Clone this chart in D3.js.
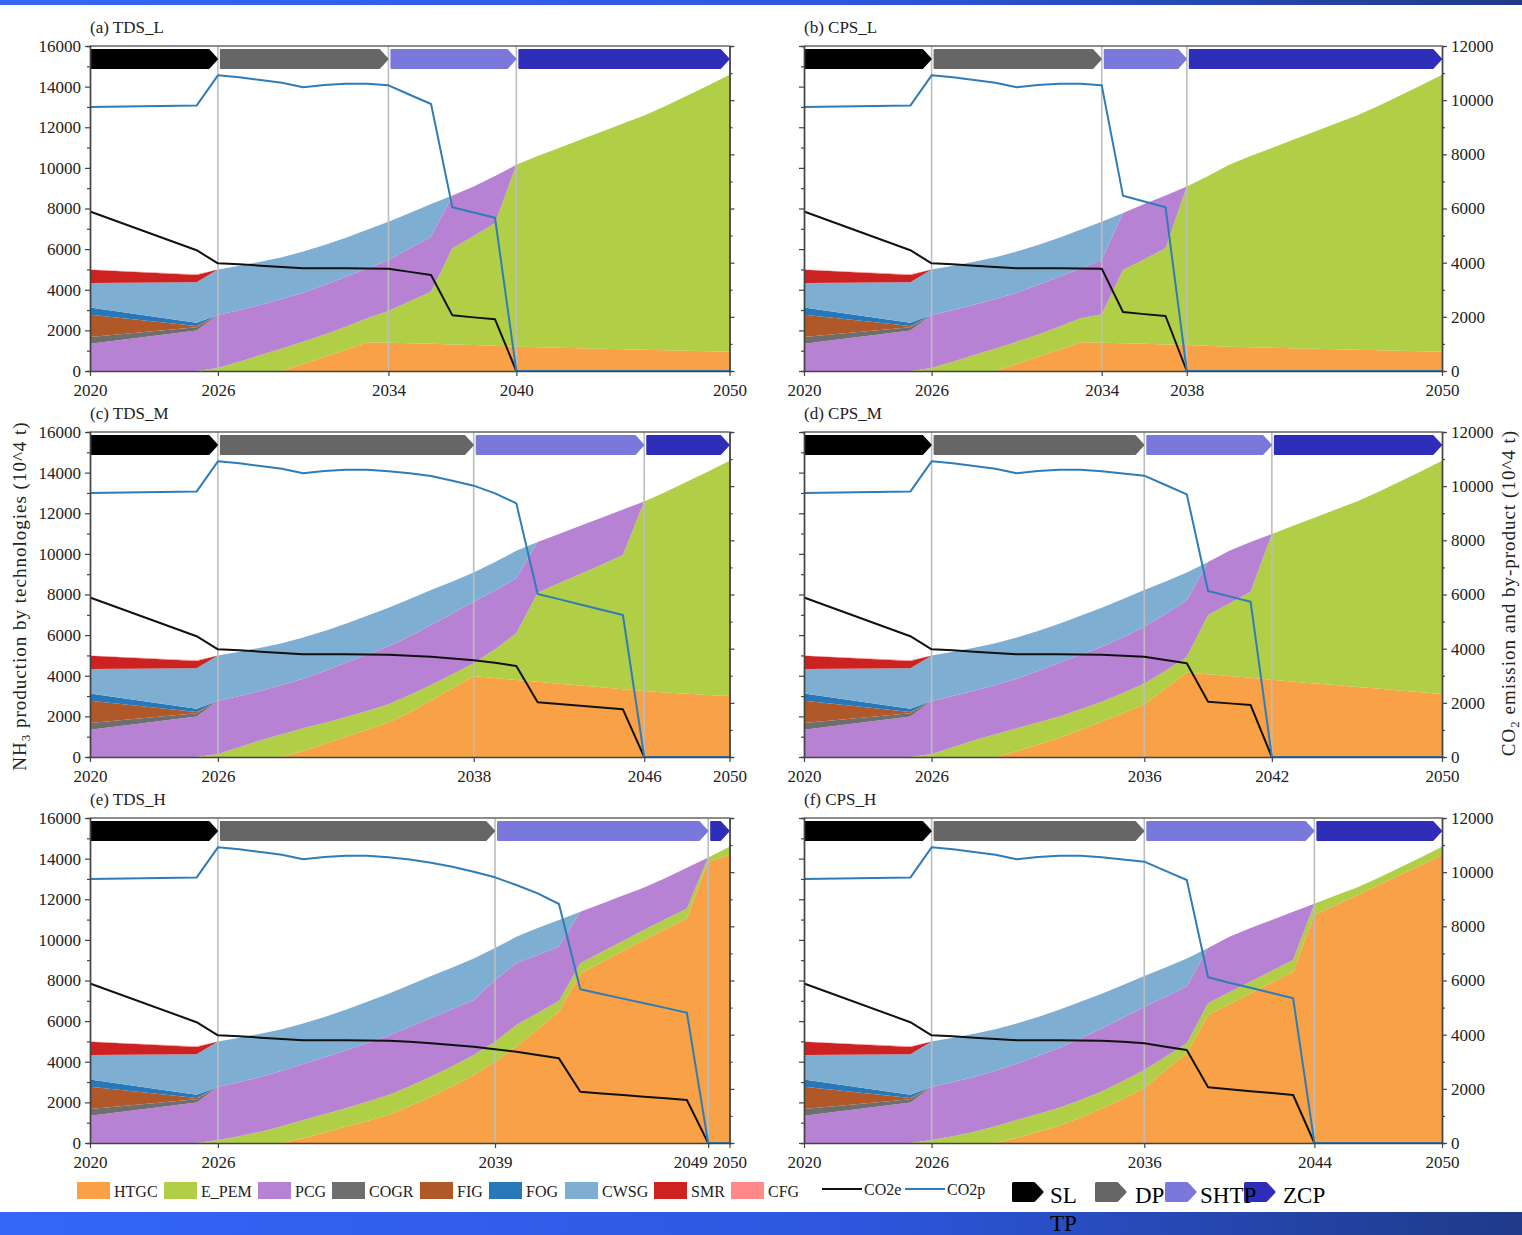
<!DOCTYPE html>
<html>
<head>
<meta charset="utf-8">
<script src="https://cdn.jsdelivr.net/npm/d3@7"></script>
<style>
  body { margin: 0; background: #fff; }
  svg { display: block; font-family: "Liberation Serif", "Times New Roman", serif; }
</style>
</head>
<body>
<svg id="chart" width="1522" height="1235"></svg>
<script>
// x positions of the data points (2021-2024 lie on the straight stretch)
let years = [2020, 2025, 2026, 2027, 2028, 2029, 2030, 2031, 2032, 2033, 2034, 2035, 2036, 2037, 2038,
	2039, 2040, 2041, 2042, 2043, 2044, 2045, 2046, 2047, 2048, 2049, 2050];

// technologies that only run in 2020-2025 (same in every scenario), 0 afterwards
let legacyYears = [2020, 2025];
let cogr = [330, 170];
let fig = [1100, 60];
let fog = [360, 150];
let smr = [650, 360];
let cfg = [20, 30];

// (a) TDS_L
let phasesA = [2020, 2026, 2034, 2040, 2050];
let htgcA = [0, 0, 0, 0, 0, 0, 350, 700, 1050, 1410, 1395, 1370, 1340, 1310, 1280, 1240, 1200, 1175, 1150, 1125, 1100, 1075, 1050, 1025, 1000, 975, 950];
let epemA = [0, 0, 150, 460, 790, 1110, 1090, 1100, 1130, 1190, 1555, 2060, 2560, 4730, 5370, 6030, 8950, 9405, 9830, 10255, 10680, 11105, 11530, 12025, 12550, 13085, 13630];
let pcgA = [1340, 1990, 2607, 2540, 2470, 2430, 2410, 2430, 2460, 2450, 2520, 2610, 2710, 2600, 2430, 2330, 0, 0, 0, 0, 0, 0, 0, 0, 0, 0, 0];
let cwsgA = [1200, 2000, 2243, 2180, 2120, 2060, 2030, 1970, 1920, 1900, 1880, 1740, 1610, 0, 0, 0, 0, 0, 0, 0, 0, 0, 0, 0, 0, 0, 0];
let co2eA = [5890, 4460, 3975, 3940, 3890, 3840, 3790, 3790, 3790, 3785, 3778, 3660, 3545, 2055, 1980, 1908, 0, 0, 0, 0, 0, 0, 0, 0, 0, 0, 0];
let co2pA = [9750, 9800, 10916, 10843, 10745, 10646, 10474, 10560, 10609, 10609, 10547, 10200, 9858, 6043, 5850, 5661, 0, 0, 0, 0, 0, 0, 0, 0, 0, 0, 0];

// (b) CPS_L
let phasesB = [2020, 2026, 2034, 2038, 2050];
let htgcB = [0, 0, 0, 0, 0, 0, 350, 700, 1050, 1410, 1395, 1370, 1340, 1310, 1280, 1240, 1200, 1175, 1150, 1125, 1100, 1075, 1050, 1025, 1000, 975, 950];
let epemB = [0, 0, 150, 460, 790, 1110, 1090, 1100, 1130, 1190, 1405, 3600, 4160, 4730, 7800, 8360, 8950, 9405, 9830, 10255, 10680, 11105, 11530, 12025, 12550, 13085, 13630];
let pcgB = [1340, 1990, 2607, 2540, 2470, 2430, 2410, 2430, 2460, 2450, 2670, 2810, 2720, 2600, 0, 0, 0, 0, 0, 0, 0, 0, 0, 0, 0, 0, 0];
let cwsgB = [1200, 2000, 2243, 2180, 2120, 2060, 2030, 1970, 1920, 1900, 1880, 0, 0, 0, 0, 0, 0, 0, 0, 0, 0, 0, 0, 0, 0, 0, 0];
let co2eB = [5890, 4460, 3975, 3940, 3890, 3840, 3790, 3790, 3790, 3785, 3778, 2178, 2100, 2031, 0, 0, 0, 0, 0, 0, 0, 0, 0, 0, 0, 0, 0];
let co2pB = [9750, 9800, 10916, 10843, 10745, 10646, 10474, 10560, 10609, 10609, 10547, 6474, 6260, 6043, 0, 0, 0, 0, 0, 0, 0, 0, 0, 0, 0, 0, 0];

// (c) TDS_M
let phasesC = [2020, 2026, 2038, 2046, 2050];
let htgcC = [0, 0, 0, 0, 0, 0, 300, 650, 1000, 1350, 1700, 2200, 2780, 3380, 3990, 3890, 3790, 3700, 3610, 3520, 3430, 3340, 3250, 3180, 3110, 3050, 3000];
let epemC = [0, 0, 150, 480, 830, 1120, 1110, 1030, 970, 920, 900, 850, 770, 690, 620, 1410, 2300, 4390, 4940, 5490, 6040, 6600, 9330, 9870, 10440, 11010, 11580];
let pcgC = [1340, 1990, 2607, 2520, 2430, 2420, 2440, 2550, 2670, 2770, 2850, 2900, 2950, 2990, 3030, 2900, 2710, 2490, 2430, 2370, 2310, 2240, 0, 0, 0, 0, 0];
let cwsgC = [1200, 2000, 2243, 2180, 2120, 2060, 2030, 1970, 1920, 1910, 1900, 1830, 1720, 1580, 1440, 1400, 1350, 0, 0, 0, 0, 0, 0, 0, 0, 0, 0];
let co2eC = [5890, 4460, 3975, 3940, 3890, 3840, 3790, 3790, 3790, 3785, 3778, 3740, 3705, 3640, 3570, 3480, 3360, 2018, 1955, 1890, 1825, 1760, 0, 0, 0, 0, 0];
let co2pC = [9750, 9800, 10916, 10843, 10745, 10646, 10474, 10560, 10609, 10609, 10547, 10474, 10375, 10203, 10018, 9735, 9366, 6018, 5830, 5630, 5440, 5243, 0, 0, 0, 0, 0];

// (d) CPS_M
let phasesD = [2020, 2026, 2036, 2042, 2050];
let htgcD = [0, 0, 0, 0, 0, 0, 280, 600, 950, 1330, 1750, 2150, 2600, 3370, 4150, 4070, 3990, 3900, 3800, 3710, 3620, 3540, 3450, 3370, 3280, 3190, 3100];
let epemD = [0, 0, 150, 480, 830, 1120, 1130, 1100, 1050, 1020, 970, 1000, 1020, 880, 790, 2920, 3570, 4240, 7180, 7670, 8160, 8640, 9130, 9680, 10270, 10870, 11480];
let pcgD = [1340, 1990, 2607, 2520, 2430, 2420, 2440, 2530, 2640, 2680, 2710, 2750, 2790, 2800, 2760, 2610, 2590, 2440, 0, 0, 0, 0, 0, 0, 0, 0, 0];
let cwsgD = [1200, 2000, 2243, 2180, 2120, 2060, 2030, 1970, 1920, 1920, 1920, 1880, 1810, 1590, 1380, 0, 0, 0, 0, 0, 0, 0, 0, 0, 0, 0, 0];
let co2eD = [5890, 4460, 3975, 3940, 3890, 3840, 3790, 3790, 3790, 3785, 3778, 3740, 3705, 3580, 3458, 2043, 1980, 1920, 0, 0, 0, 0, 0, 0, 0, 0, 0];
let co2pD = [9750, 9800, 10916, 10843, 10745, 10646, 10474, 10560, 10609, 10609, 10547, 10470, 10388, 10043, 9698, 6129, 5930, 5735, 0, 0, 0, 0, 0, 0, 0, 0, 0];

// (e) TDS_H
let phasesE = [2020, 2026, 2039, 2049, 2050];
let htgcE = [0, 0, 0, 0, 0, 0, 230, 520, 800, 1080, 1380, 1820, 2280, 2800, 3350, 4000, 4740, 5600, 6470, 8350, 8900, 9450, 10000, 10530, 11060, 13850, 14180];
let epemE = [0, 0, 150, 330, 560, 830, 900, 900, 910, 950, 980, 980, 990, 980, 980, 990, 1070, 800, 520, 500, 500, 500, 500, 500, 490, 210, 400];
let pcgE = [1340, 1990, 2607, 2670, 2690, 2730, 2760, 2800, 2850, 2890, 2920, 2920, 2890, 2820, 2710, 3030, 3040, 2860, 2680, 2530, 2380, 2230, 2080, 2020, 2000, 0, 0];
let cwsgE = [1200, 2000, 2243, 2180, 2130, 2040, 1990, 1980, 2000, 2030, 2070, 2060, 2060, 2040, 2040, 1580, 1300, 1320, 1310, 0, 0, 0, 0, 0, 0, 0, 0];
let co2eE = [5890, 4460, 3975, 3940, 3890, 3840, 3790, 3790, 3790, 3785, 3778, 3740, 3680, 3620, 3557, 3458, 3372, 3249, 3126, 1895, 1830, 1770, 1710, 1650, 1588, 0, 0];
let co2pE = [9750, 9800, 10916, 10843, 10745, 10646, 10474, 10560, 10609, 10609, 10547, 10470, 10351, 10203, 10018, 9809, 9526, 9218, 8825, 5674, 5500, 5330, 5160, 4990, 4812, 0, 0];

// (f) CPS_H
let phasesF = [2020, 2026, 2036, 2044, 2050];
let htgcF = [0, 0, 0, 0, 0, 0, 250, 550, 850, 1250, 1700, 2180, 2690, 3590, 4410, 6300, 6830, 7370, 7900, 8430, 11220, 11710, 12200, 12690, 13180, 13680, 14180];
let epemF = [0, 0, 150, 330, 560, 830, 880, 880, 890, 870, 830, 870, 900, 660, 500, 580, 590, 580, 580, 580, 560, 470, 380, 360, 370, 380, 400];
let pcgF = [1340, 1990, 2607, 2670, 2690, 2730, 2770, 2850, 2940, 3030, 3110, 3120, 3120, 2950, 2790, 2720, 2730, 2630, 2500, 2370, 0, 0, 0, 0, 0, 0, 0];
let cwsgF = [1200, 2000, 2243, 2180, 2130, 2040, 1980, 1920, 1880, 1800, 1710, 1610, 1510, 1440, 1380, 0, 0, 0, 0, 0, 0, 0, 0, 0, 0, 0, 0];
let co2eF = [5890, 4460, 3975, 3940, 3890, 3840, 3790, 3790, 3790, 3785, 3778, 3740, 3680, 3557, 3434, 2055, 1985, 1915, 1845, 1772, 0, 0, 0, 0, 0, 0, 0];
let co2pF = [9750, 9800, 10916, 10843, 10745, 10646, 10474, 10560, 10609, 10609, 10547, 10470, 10388, 10050, 9711, 6117, 5920, 5730, 5535, 5342, 0, 0, 0, 0, 0, 0, 0];

let techKeys = ["HTGC", "E_PEM", "PCG", "COGR", "FIG", "FOG", "CWSG", "SMR", "CFG"];
let techColors = ["#F8A146", "#B0CE46", "#B782D4", "#6E6E6E", "#B05828", "#2878B9", "#7FAED3", "#CC2222", "#FF8888"];
let phaseNames = ["SL", "DP", "SHTP", "ZCP"];
let phaseColors = ["#000000", "#666666", "#7B78DC", "#2E2EB8"];
let co2Colors = {CO2e: "#111111", CO2p: "#2F7DB8"};

let panels = [
	{title: "(a) TDS_L", phases: phasesA, htgc: htgcA, epem: epemA, pcg: pcgA, cwsg: cwsgA, co2e: co2eA, co2p: co2pA},
	{title: "(b) CPS_L", phases: phasesB, htgc: htgcB, epem: epemB, pcg: pcgB, cwsg: cwsgB, co2e: co2eB, co2p: co2pB},
	{title: "(c) TDS_M", phases: phasesC, htgc: htgcC, epem: epemC, pcg: pcgC, cwsg: cwsgC, co2e: co2eC, co2p: co2pC},
	{title: "(d) CPS_M", phases: phasesD, htgc: htgcD, epem: epemD, pcg: pcgD, cwsg: cwsgD, co2e: co2eD, co2p: co2pD},
	{title: "(e) TDS_H", phases: phasesE, htgc: htgcE, epem: epemE, pcg: pcgE, cwsg: cwsgE, co2e: co2eE, co2p: co2pE},
	{title: "(f) CPS_H", phases: phasesF, htgc: htgcF, epem: epemF, pcg: pcgF, cwsg: cwsgF, co2e: co2eF, co2p: co2pF}
];

// layout
let colX = [[90, 729.5], [804, 1442]];
let rowY = [[46, 371], [432, 757], [818, 1143]];
let fontFam = "'Liberation Serif', 'Times New Roman', serif";

let svg = d3.select("#chart");

// blue bands top and bottom
let grad = svg.append("defs").append("linearGradient").attr("id", "band");
grad.append("stop").attr("offset", "0%").attr("stop-color", "#3566F8");
grad.append("stop").attr("offset", "55%").attr("stop-color", "#2D57E0");
grad.append("stop").attr("offset", "100%").attr("stop-color", "#1F3A88");
svg.append("rect").attr("x", 0).attr("y", 0).attr("width", 1522).attr("height", 5).attr("fill", "url(#band)");
svg.append("rect").attr("x", 0).attr("y", 1212).attr("width", 1522).attr("height", 23).attr("fill", "url(#band)");

function legacyValue(arr, yr) {
	let i = legacyYears.indexOf(yr);
	return i < 0 ? 0 : arr[i];
}

function arrowPath(xa, xb, yt, yb) {
	let m = (yt + yb) / 2, t = 8;
	return `M${xa},${yt}L${xb - t},${yt}L${xb},${m}L${xb - t},${yb}L${xa},${yb}Z`;
}

function styleAxis(g) {
	g.attr("font-size", 17).attr("font-family", fontFam);
	g.select(".domain").attr("stroke", "#444").attr("stroke-width", 1.4);
	g.selectAll(".tick line").attr("stroke", "#444").attr("stroke-width", 1.2);
	g.selectAll(".tick text").attr("fill", "#222");
}

panels.forEach((p, k) => {
	let col = k % 2, row = Math.floor(k / 2);
	let x = d3.scaleLinear().domain([2020, 2050]).range(colX[col]);
	let y = d3.scaleLinear().domain([0, 16000]).range([rowY[row][1], rowY[row][0]]);
	let yR = d3.scaleLinear().domain([0, 12000]).range([rowY[row][1], rowY[row][0]]);
	let g = svg.append("g");

	let rows = years.map((yr, i) => ({
		year: yr,
		HTGC: p.htgc[i], E_PEM: p.epem[i], PCG: p.pcg[i],
		COGR: legacyValue(cogr, yr), FIG: legacyValue(fig, yr), FOG: legacyValue(fog, yr),
		CWSG: p.cwsg[i], SMR: legacyValue(smr, yr), CFG: legacyValue(cfg, yr)
	}));
	let series = d3.stack().keys(techKeys)(rows);
	let area = d3.area()
		.x(d => x(d.data.year))
		.y0(d => y(d[0]))
		.y1(d => y(d[1]));
	g.selectAll(".area").data(series).join("path")
		.attr("class", "area")
		.attr("fill", (d, i) => techColors[i])
		.attr("d", area);

	// phase dividers
	g.selectAll(".divider").data(p.phases.slice(1, -1)).join("line")
		.attr("class", "divider")
		.attr("x1", d => x(d)).attr("x2", d => x(d))
		.attr("y1", y(0)).attr("y2", y(16000))
		.attr("stroke", "#BDBDBD").attr("stroke-width", 1.6);

	// CO2 lines on right scale
	let line = d3.line().x((d, i) => x(years[i])).y(d => yR(d));
	g.append("path").attr("d", line(p.co2e)).attr("fill", "none")
		.attr("stroke", co2Colors.CO2e).attr("stroke-width", 2).attr("stroke-linejoin", "round");
	g.append("path").attr("d", line(p.co2p)).attr("fill", "none")
		.attr("stroke", co2Colors.CO2p).attr("stroke-width", 2).attr("stroke-linejoin", "round");

	// phase arrows
	let yt = y(15850) + 1, yb = y(14870) - 1;
	p.phases.slice(0, -1).forEach((start, i) => {
		let xa = x(start) + (i === 0 ? 1.5 : 3);
		let xb = x(p.phases[i + 1]) - 1;
		g.append("path").attr("d", arrowPath(xa, xb, yt, yb))
			.attr("fill", phaseColors[i]).attr("stroke", phaseColors[i])
			.attr("stroke-width", 2).attr("stroke-linejoin", "round");
	});

	// frame top
	g.append("line").attr("x1", x(2020)).attr("x2", x(2050))
		.attr("y1", y(16000)).attr("y2", y(16000))
		.attr("stroke", "#666").attr("stroke-width", 1.4);

	// bottom axis
	let gx = g.append("g").attr("transform", `translate(0,${y(0)})`)
		.call(d3.axisBottom(x).tickValues(p.phases).tickFormat(d3.format("d"))
			.tickSizeInner(5).tickSizeOuter(0).tickPadding(8));
	styleAxis(gx);
	gx.selectAll(".tick").each(function (d, i) {
		let nxt = p.phases[i + 1];
		if (nxt !== undefined && x(nxt) - x(d) < 30) {
			d3.select(this).select("text").attr("text-anchor", "end").attr("x", -1);
		}
	});

	// left axis (0-16000)
	let gl = g.append("g").attr("transform", `translate(${x(2020)},0)`)
		.call(d3.axisLeft(y).tickValues(d3.range(0, 16001, 2000))
			.tickFormat(col === 0 ? d3.format("d") : "")
			.tickSizeInner(5).tickSizeOuter(0).tickPadding(4));
	styleAxis(gl);
	let glm = g.append("g").attr("transform", `translate(${x(2020)},0)`)
		.call(d3.axisLeft(y).tickValues(d3.range(1000, 16000, 2000)).tickFormat("").tickSize(3));
	styleAxis(glm);

	// right axis (0-12000)
	let gr = g.append("g").attr("transform", `translate(${x(2050)},0)`)
		.call(d3.axisRight(yR).tickValues(d3.range(0, 12001, 2000))
			.tickFormat(col === 1 ? d3.format("d") : "")
			.tickSizeInner(5).tickSizeOuter(0).tickPadding(4));
	styleAxis(gr);
	let grm = g.append("g").attr("transform", `translate(${x(2050)},0)`)
		.call(d3.axisRight(yR).tickValues(d3.range(1000, 12000, 2000)).tickFormat("").tickSize(3));
	styleAxis(grm);

	// title
	g.append("text").attr("x", x(2020)).attr("y", y(16000) - 13)
		.attr("font-size", 17).attr("font-family", fontFam).attr("fill", "#222")
		.text(p.title);
});

// axis titles
let lt = svg.append("text").attr("transform", "translate(26,596) rotate(-90)")
	.attr("text-anchor", "middle").attr("font-size", 19).attr("font-family", fontFam)
	.attr("letter-spacing", 1).attr("fill", "#222");
lt.append("tspan").text("NH");
lt.append("tspan").attr("dy", 4).attr("font-size", 13).text("3");
lt.append("tspan").attr("dy", -4).text(" production by technologies (10^4 t)");

let rt = svg.append("text").attr("transform", "translate(1515,593) rotate(-90)")
	.attr("text-anchor", "middle").attr("font-size", 19).attr("font-family", fontFam)
	.attr("letter-spacing", 1).attr("fill", "#222");
rt.append("tspan").text("CO");
rt.append("tspan").attr("dy", 4).attr("font-size", 13).text("2");
rt.append("tspan").attr("dy", -4).text(" emission and by-product (10^4 t)");

// legend
let lg = svg.append("g").attr("font-family", fontFam).attr("fill", "#222");
let swatchX = [77, 164, 258, 332, 420, 489, 565, 654, 731];
techKeys.forEach((key, i) => {
	lg.append("rect").attr("x", swatchX[i]).attr("y", 1182).attr("width", 33).attr("height", 17)
		.attr("fill", techColors[i]);
	lg.append("text").attr("x", swatchX[i] + 37).attr("y", 1197).attr("font-size", 16).text(key);
});
let lineX = [822, 905];
["CO2e", "CO2p"].forEach((key, i) => {
	lg.append("line").attr("x1", lineX[i]).attr("x2", lineX[i] + 40).attr("y1", 1189).attr("y2", 1189)
		.attr("stroke", co2Colors[key]).attr("stroke-width", 2);
	lg.append("text").attr("x", lineX[i] + 42).attr("y", 1195).attr("font-size", 16).text(key);
});
let markerX = [1012, 1095, 1165, 1244];
phaseNames.forEach((name, i) => {
	lg.append("path").attr("d", arrowPath(markerX[i] + 1.5, markerX[i] + 30, 1183.5, 1200.5))
		.attr("fill", phaseColors[i]).attr("stroke", phaseColors[i])
		.attr("stroke-width", 3).attr("stroke-linejoin", "round");
});
let labelX = [1050, 1135, 1200, 1283];
phaseNames.forEach((name, i) => {
	lg.append("text").attr("x", labelX[i]).attr("y", 1203).attr("font-size", 23).attr("fill", "#000").text(name);
});
lg.append("text").attr("x", 1050).attr("y", 1231).attr("font-size", 23).attr("fill", "#000").text("TP");
</script>
</body>
</html>
